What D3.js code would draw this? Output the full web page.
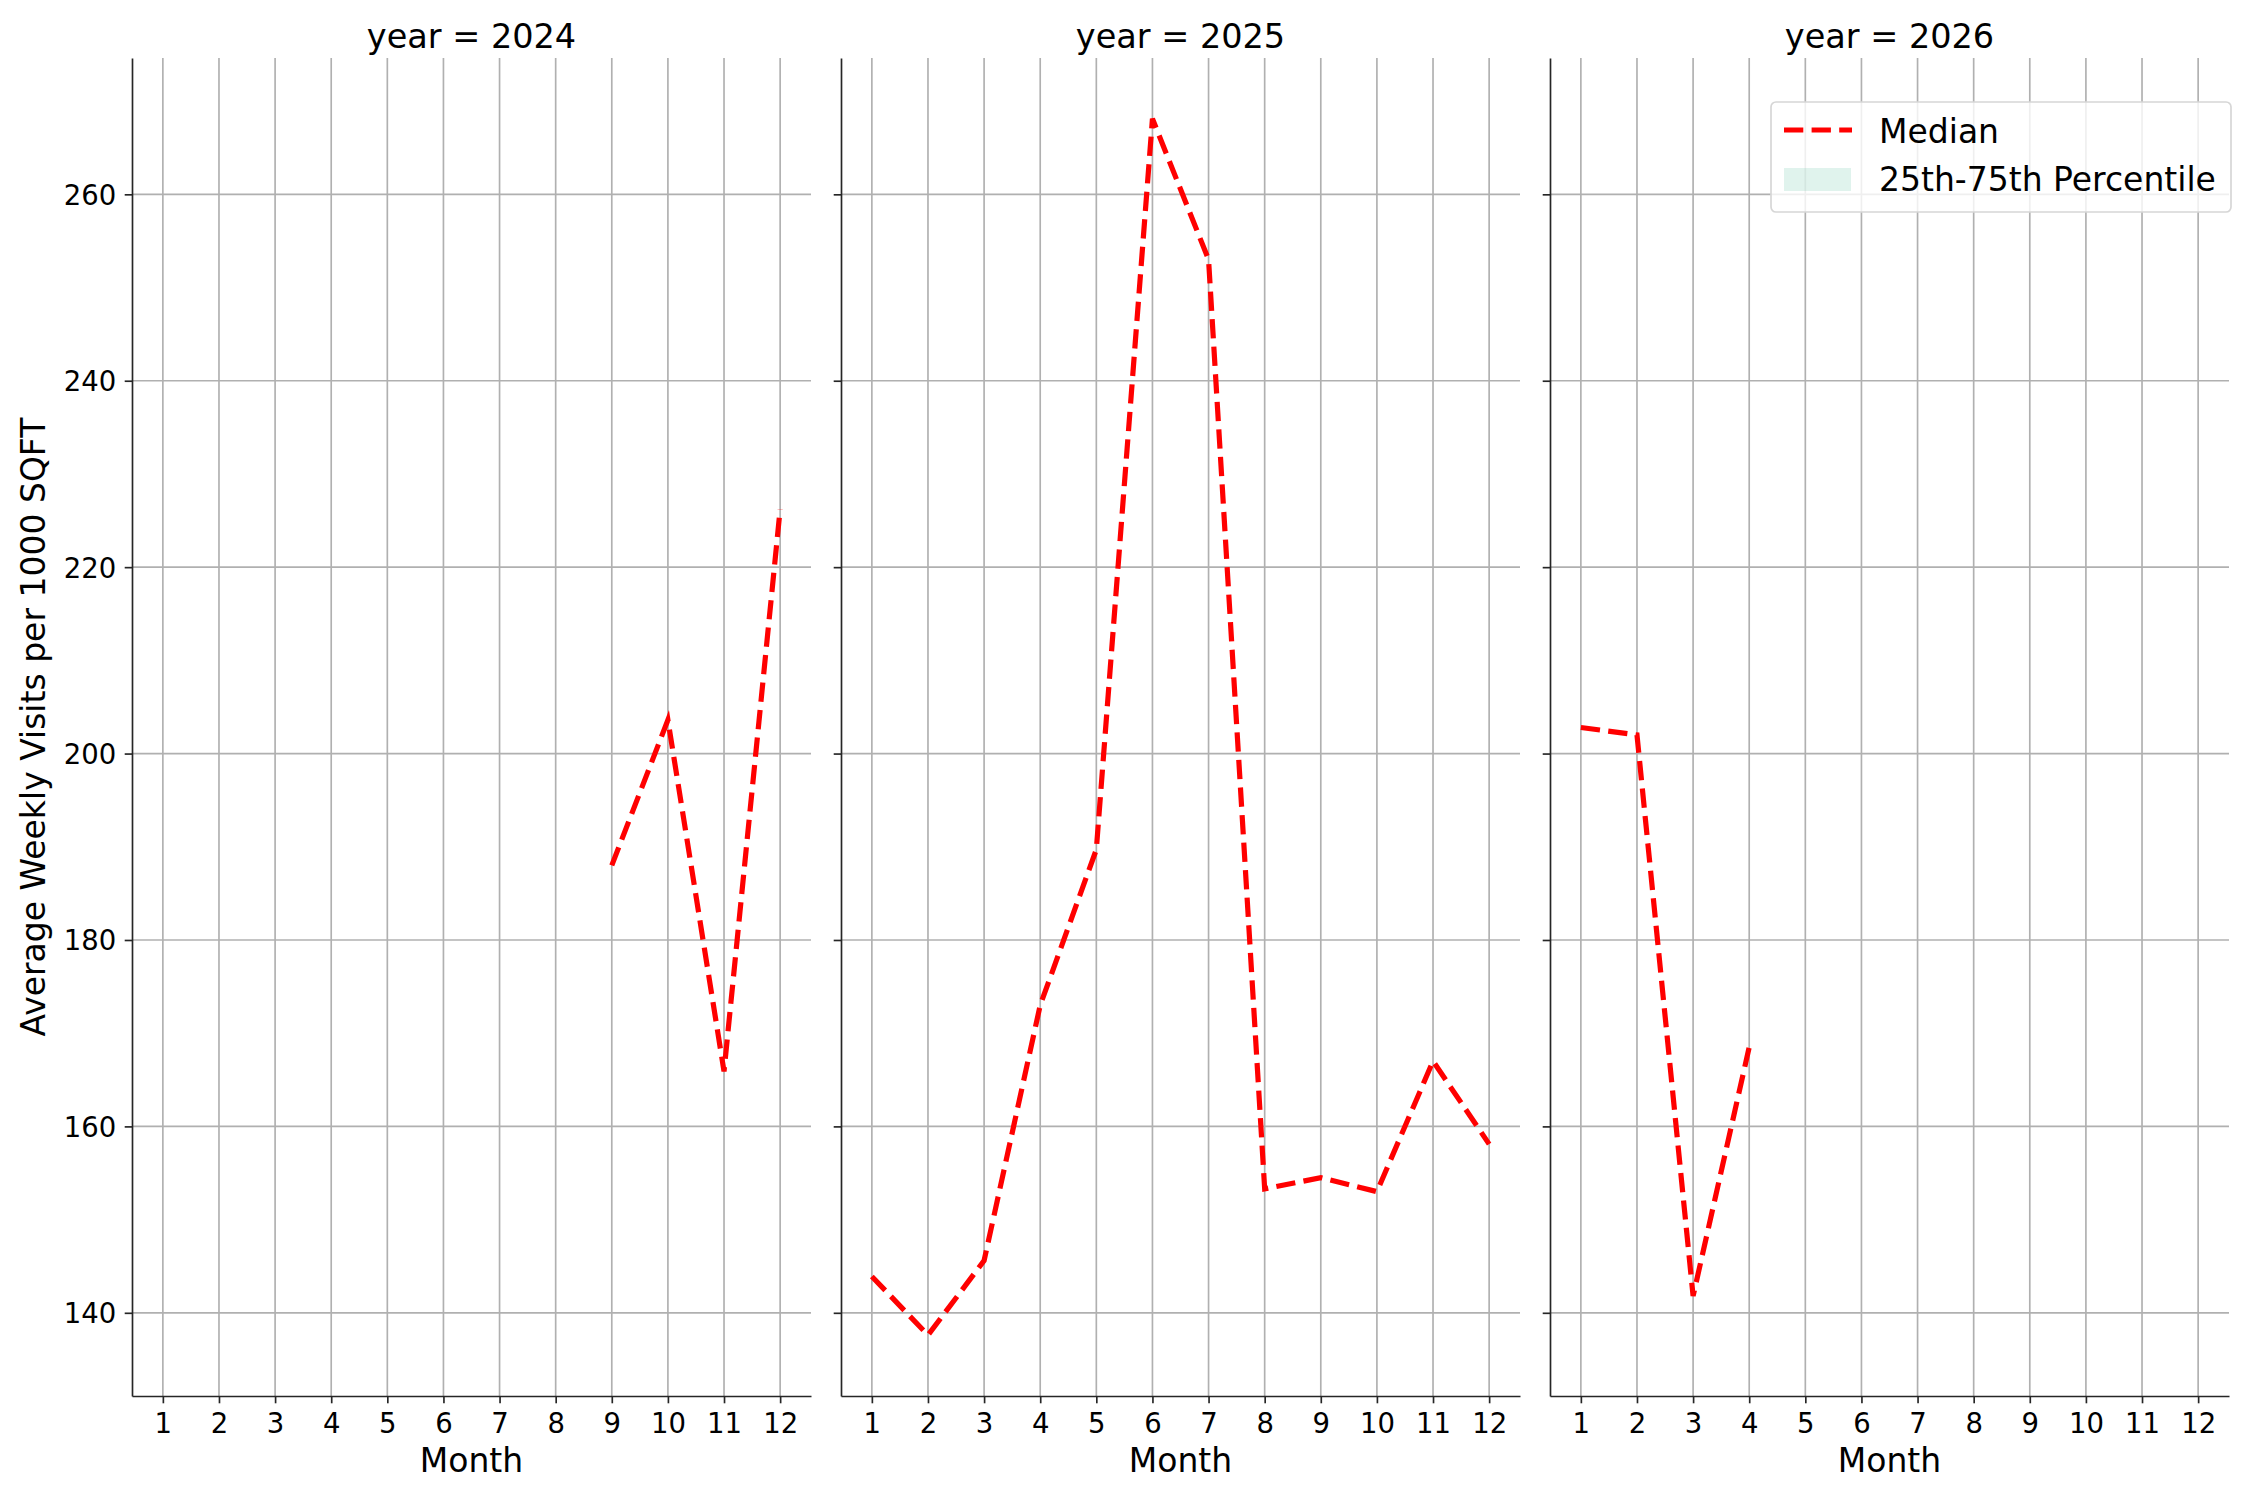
<!DOCTYPE html>
<html lang="en">
<head>
    <meta charset="UTF-8">
    <title>Average Weekly Visits per 1000 SQFT by Month</title>
    <script src="https://cdnjs.cloudflare.com/ajax/libs/d3/7.8.5/d3.min.js"></script>
    <style>
        body {
            margin: 0;
            background-color: #ffffff;
            font-family: 'DejaVu Sans', sans-serif;
        }
        .grid line {
            stroke: #b0b0b0;
            stroke-width: 1.67px;
        }
        .axis path, .axis line {
            stroke: #262626;
            stroke-width: 1.67px;
        }
        .axis text {
            font-family: 'DejaVu Sans', sans-serif;
            font-size: 27.5px;
            fill: #000;
        }
        .median {
            fill: none;
            stroke: #ff0000;
            stroke-width: 5.2px;
            stroke-dasharray: 19.3, 8.3;
        }
    </style>
</head>
<body>
    <div id="chart"></div>
    <script>
        const years = [2024, 2025, 2026];
        const monthTicks = [1, 2, 3, 4, 5, 6, 7, 8, 9, 10, 11, 12];
        const yTicks = [140, 160, 180, 200, 220, 240, 260];

        const months2024 = [9, 10, 11, 12];
        const median2024 = [188.0, 203.6, 165.9, 226.2];
        const months2025 = [1, 2, 3, 4, 5, 6, 7, 8, 9, 10, 11, 12];
        const median2025 = [143.9, 137.6, 145.6, 173.0, 189.7, 268.1, 253.0, 153.3, 154.5, 153.0, 167.0, 158.1];
        const months2026 = [1, 2, 3, 4];
        const median2026 = [202.8, 202.0, 141.8, 168.5];

        const panels = [
            {year: years[0], months: months2024, median: median2024},
            {year: years[1], months: months2025, median: median2025},
            {year: years[2], months: months2026, median: median2026}
        ];

        const width = 2250;
        const height = 1500;
        const plotTop = 58, plotBottom = 1396;
        const panelLeft = [132, 841, 1550];
        const panelWidth = 679;

        const svg = d3.select("#chart")
            .append("svg")
            .attr("width", width)
            .attr("height", height);

        // matplotlib-style 5% margins
        const allVals = median2024.concat(median2025, median2026);
        const [vMin, vMax] = d3.extent(allVals);
        const pad = (vMax - vMin) * 0.05;
        const y = d3.scaleLinear()
            .domain([vMin - pad, vMax + pad])
            .range([plotBottom, plotTop]);

        const xPad = (d3.max(monthTicks) - d3.min(monthTicks)) * 0.05;

        panels.forEach((p, i) => {
            const x = d3.scaleLinear()
                .domain([d3.min(monthTicks) - xPad, d3.max(monthTicks) + xPad])
                .range([panelLeft[i], panelLeft[i] + panelWidth]);

            const g = svg.append("g");

            // grid
            g.append("g").attr("class", "grid")
                .selectAll("line")
                .data(monthTicks)
                .enter().append("line")
                .attr("x1", d => x(d)).attr("x2", d => x(d))
                .attr("y1", plotTop).attr("y2", plotBottom);
            g.append("g").attr("class", "grid")
                .selectAll("line")
                .data(yTicks)
                .enter().append("line")
                .attr("x1", panelLeft[i]).attr("x2", panelLeft[i] + panelWidth)
                .attr("y1", d => y(d)).attr("y2", d => y(d));

            // axes
            g.append("g")
                .attr("class", "axis")
                .attr("transform", `translate(0,${plotBottom})`)
                .call(d3.axisBottom(x).tickValues(monthTicks).tickSize(7.3).tickPadding(7.3).tickSizeOuter(0))
                .call(a => a.selectAll("text").attr("dy", "0.81em"));

            const yAxis = d3.axisLeft(y).tickValues(yTicks).tickSize(7.3).tickPadding(8.5).tickSizeOuter(0);
            if (i > 0) yAxis.tickFormat("");
            g.append("g")
                .attr("class", "axis")
                .attr("transform", `translate(${panelLeft[i]},0)`)
                .call(yAxis)
                .call(a => a.selectAll("text").attr("dy", "0.36em"));

            // median line
            const pts = p.months.map((m, k) => [m, p.median[k]]);
            g.append("path")
                .datum(pts)
                .attr("class", "median")
                .attr("d", d3.line().x(d => x(d[0])).y(d => y(d[1])));

            // titles
            g.append("text")
                .attr("x", panelLeft[i] + panelWidth / 2)
                .attr("y", 48)
                .attr("text-anchor", "middle")
                .style("font-size", "33.5px")
                .text(`year = ${p.year}`);

            g.append("text")
                .attr("x", panelLeft[i] + panelWidth / 2)
                .attr("y", 1472)
                .attr("text-anchor", "middle")
                .style("font-size", "33px")
                .text("Month");
        });

        svg.append("text")
            .attr("transform", `translate(45,${(plotTop + plotBottom) / 2}) rotate(-90)`)
            .attr("text-anchor", "middle")
            .style("font-size", "33px")
            .text("Average Weekly Visits per 1000 SQFT");

        // legend
        const legend = svg.append("g").attr("transform", "translate(1771,102)");
        legend.append("rect")
            .attr("width", 460).attr("height", 110)
            .attr("rx", 5)
            .attr("fill", "rgba(255,255,255,0.8)")
            .attr("stroke", "#d6d6d6")
            .attr("stroke-width", 1.7);
        legend.append("line")
            .attr("class", "median")
            .attr("x1", 13).attr("x2", 81)
            .attr("y1", 28).attr("y2", 28);
        legend.append("rect")
            .attr("x", 13).attr("y", 66)
            .attr("width", 67).attr("height", 23)
            .attr("fill", "#66c2a5")
            .attr("fill-opacity", 0.2);
        legend.append("text")
            .attr("x", 108).attr("y", 41)
            .style("font-size", "33px")
            .text("Median");
        legend.append("text")
            .attr("x", 108).attr("y", 89)
            .style("font-size", "33px")
            .text("25th-75th Percentile");
    </script>
</body>
</html>
